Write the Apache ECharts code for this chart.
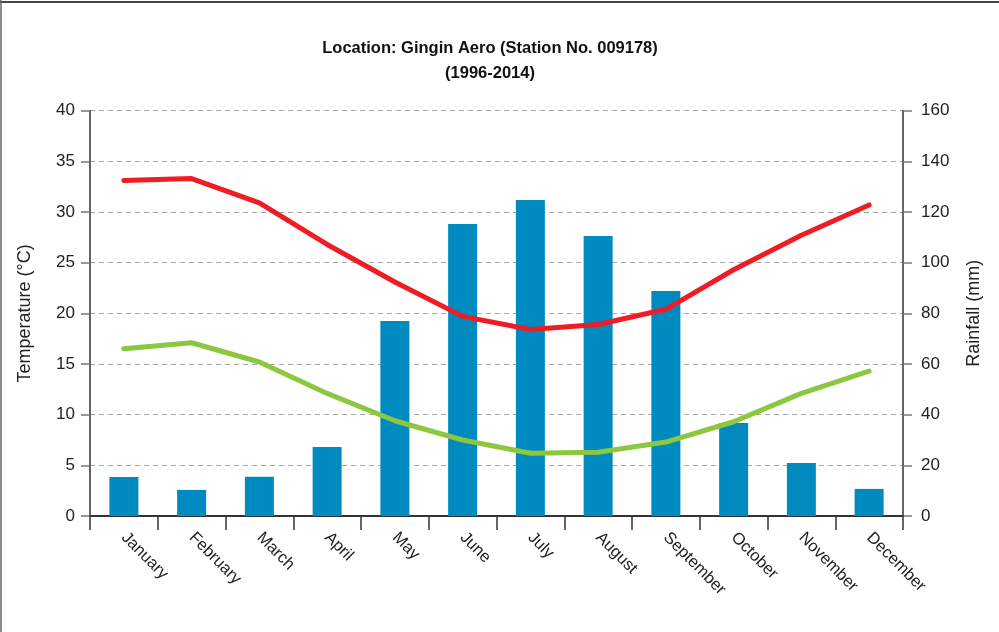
<!DOCTYPE html>
<html>
<head>
<meta charset="utf-8">
<script src="https://cdn.jsdelivr.net/npm/echarts@6/dist/echarts.min.js"></script>
<style>
html,body{margin:0;padding:0;background:#fff;}
#c{width:999px;height:632px;}
</style>
</head>
<body>
<div id="c"></div>
<script>
var months = ['January','February','March','April','May','June','July','August','September','October','November','December'];
var rainfall = [15.4, 10.3, 15.5, 27.2, 77.0, 115.3, 124.7, 110.5, 88.8, 36.7, 20.9, 10.7];
var maxTemp = [33.1, 33.3, 30.9, 26.8, 23.1, 19.7, 18.4, 18.9, 20.4, 24.3, 27.7, 30.7];
var minTemp = [16.5, 17.1, 15.2, 12.1, 9.4, 7.5, 6.2, 6.3, 7.3, 9.3, 12.1, 14.3];
var titleLines = ['Location: Gingin Aero (Station No. 009178)', '(1996-2014)'];

var FONT = '"Liberation Sans", Arial, sans-serif';
var chart = echarts.init(document.getElementById('c'));
chart.setOption({
  animation: false,
  backgroundColor: '#fff',
  title: {
    text: titleLines.join('\n'),
    left: 485, top: 31, textAlign: 'center',
    textStyle: { fontFamily: FONT, fontSize: 16.5, fontWeight: 'bold', color: '#111', lineHeight: 25 }
  },
  graphic: [
    { type: 'line', shape: { x1: 0, y1: 2, x2: 999, y2: 2 }, style: { stroke: '#444', lineWidth: 2 } },
    { type: 'line', shape: { x1: 1, y1: 0, x2: 1, y2: 632 }, style: { stroke: '#666', lineWidth: 1.5 } }
  ],
  grid: { left: 90, right: 96, top: 110.7, bottom: 116, containLabel: false },
  xAxis: {
    type: 'category', data: months, boundaryGap: true,
    axisLine: { show: true, lineStyle: { color: '#333', width: 2 } },
    axisTick: { show: true, length: 14, lineStyle: { color: '#333', width: 1.5 } },
    axisLabel: { rotate: -45, margin: 19, fontFamily: FONT, fontSize: 16.5, color: '#222' }
  },
  yAxis: [
    {
      type: 'value', min: 0, max: 40, interval: 5,
      name: 'Temperature (°C)', nameLocation: 'middle', nameGap: 56, nameRotate: 90,
      nameTextStyle: { fontFamily: FONT, fontSize: 18, color: '#222' },
      axisLine: { show: true, lineStyle: { color: '#333', width: 1.5 } },
      axisTick: { show: true, length: 9, lineStyle: { color: '#777', width: 1.5 } },
      axisLabel: { fontFamily: FONT, fontSize: 17, color: '#222', margin: 15 },
      splitLine: { show: true, lineStyle: { color: '#a8a8a8', type: [5, 4], width: 1 } }
    },
    {
      type: 'value', min: 0, max: 160, interval: 20, position: 'right',
      name: 'Rainfall (mm)', nameLocation: 'middle', nameGap: 62, nameRotate: 90,
      nameTextStyle: { fontFamily: FONT, fontSize: 18, color: '#222' },
      axisLine: { show: true, lineStyle: { color: '#333', width: 1.5 } },
      axisTick: { show: true, length: 9, lineStyle: { color: '#777', width: 1.5 } },
      axisLabel: { fontFamily: FONT, fontSize: 17, color: '#222', margin: 18 },
      splitLine: { show: false }
    }
  ],
  series: [
    { type: 'bar', yAxisIndex: 1, data: rainfall, barWidth: 29, itemStyle: { color: '#008bc0' } },
    { type: 'line', yAxisIndex: 0, data: maxTemp, symbol: 'none', lineStyle: { color: '#ee1c25', width: 5, cap: 'round', join: 'round' } },
    { type: 'line', yAxisIndex: 0, data: minTemp, symbol: 'none', lineStyle: { color: '#8dc63f', width: 5, cap: 'round', join: 'round' } }
  ]
});
</script>
</body>
</html>
